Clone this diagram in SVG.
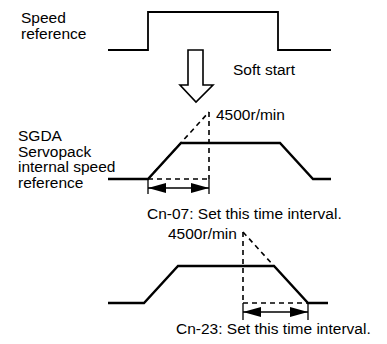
<svg xmlns="http://www.w3.org/2000/svg" width="387" height="344" viewBox="0 0 387 344">
<style>
text{font-family:"Liberation Sans",Arial,sans-serif;font-size:15.5px;fill:#000}
.step{fill:none;stroke:#000;stroke-width:1.8}
.curve{fill:none;stroke:#000;stroke-width:2.4;stroke-linejoin:miter}
.dash{fill:none;stroke:#000;stroke-width:1.6;stroke-dasharray:5,4}
.tick{fill:none;stroke:#000;stroke-width:1.3}
.dim{fill:none;stroke:#000;stroke-width:1.6}
</style>
<defs>
<marker id="ah" viewBox="0 0 18 10" refX="18" refY="5" markerWidth="18" markerHeight="10" markerUnits="userSpaceOnUse" orient="auto-start-reverse">
<path d="M0,0 L18,5 L0,10 Z" fill="#000"/>
</marker>
</defs>
<g id="speed-reference">
<text x="21" y="23">Speed</text>
<text x="21" y="38.5">reference</text>
<path class="step" d="M108,50 H148 V12 H278 V50 H331"/>
</g>
<g id="soft-start-arrow">
<path d="M188,50 H203 V85 H213 L196,102 L180,85 H188 Z" fill="#fff" stroke="#000" stroke-width="1.6"/>
<text x="233" y="75">Soft start</text>
</g>
<g id="internal-speed-reference">
<text x="18" y="141">SGDA</text>
<text x="18" y="156.5">Servopack</text>
<text x="18" y="172">internal speed</text>
<text x="18" y="188">reference</text>
<path class="curve" d="M108,179 H148 L181,143 H280 L313,179 H331"/>
<text x="216" y="120">4500r/min</text>
<text x="147" y="219">Cn-07: Set this time interval.</text>
</g>
<g id="deceleration">
<path class="curve" d="M108,303 H144 L178,266 H274 L308,303 H328"/>
<text x="168" y="239">4500r/min</text>
<text x="176" y="334">Cn-23: Set this time interval.</text>
</g>
<g id="connectors">
<path class="dash" d="M148,179 L209,112"/>
<path class="dash" d="M209,112 V179"/>
<path class="dash" d="M148,179 H209"/>
<path class="tick" d="M148,179 V194 M209,179 V194"/>
<path class="dim" d="M148,188 H209" marker-start="url(#ah)" marker-end="url(#ah)"/>
<path class="dash" d="M243,232 L274,266"/>
<path class="dash" d="M243,232 V303"/>
<path class="dash" d="M243,303 H308"/>
<path class="tick" d="M243,303 V320 M308,303 V320"/>
<path class="dim" d="M243,312 H308" marker-start="url(#ah)" marker-end="url(#ah)"/>
</g>
</svg>
